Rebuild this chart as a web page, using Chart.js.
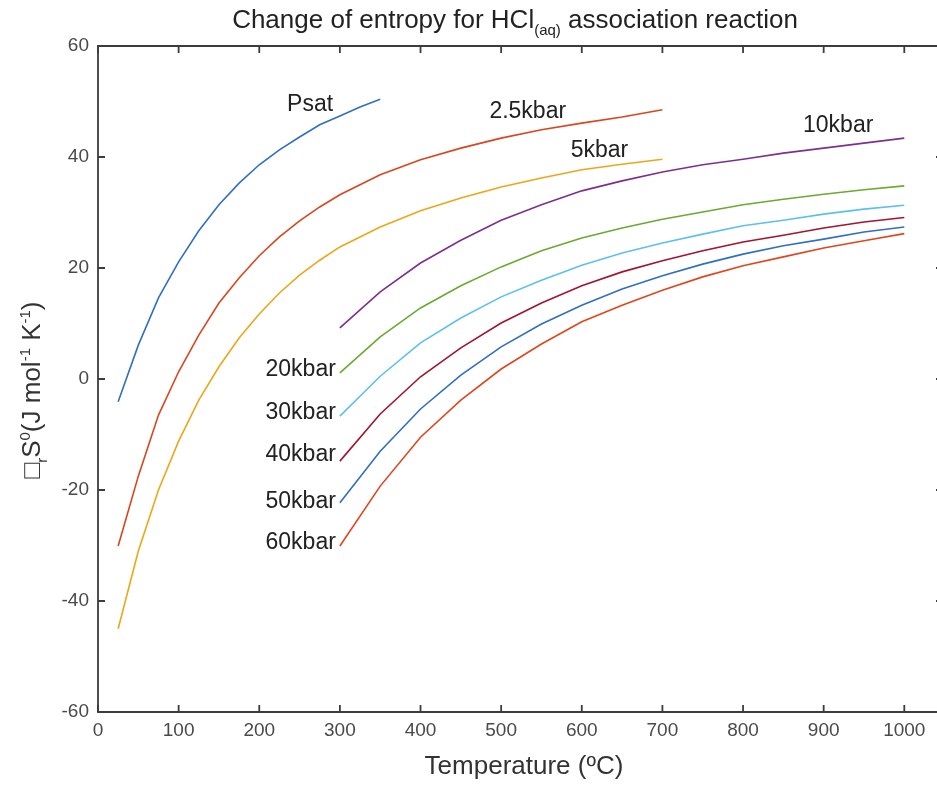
<!DOCTYPE html>
<html>
<head>
<meta charset="utf-8">
<script src="https://cdn.jsdelivr.net/npm/chart.js@4.4.0/dist/chart.umd.min.js"></script>
<style>
  html, body { margin: 0; padding: 0; background: #fff; overflow: hidden; }
  #wrap { width: 943px; height: 785px; position: relative; }
</style>
</head>
<body>
<div id="wrap"><canvas id="chart"></canvas></div>
<script>
// Temperatures (ºC)
const tPsat = [25, 50, 75, 100, 125, 150, 175, 200, 225, 250, 275, 300, 325, 350];
const tLow = [25, 50, 75, 100, 125, 150, 175, 200, 225, 250, 275, 300, 350, 400, 450, 500, 550, 600, 650, 700];
const tHigh = [300, 350, 400, 450, 500, 550, 600, 650, 700, 750, 800, 850, 900, 950, 1000];

// ΔrS0 values (J mol-1 K-1)
const sPsat = [-4.1, 6.1, 14.6, 21.1, 26.7, 31.4, 35.3, 38.6, 41.3, 43.6, 45.8, 47.4, 49.0, 50.4];
const s2p5 = [-30.1, -17.5, -6.5, 1.3, 7.9, 13.7, 18.2, 22.2, 25.6, 28.5, 31.0, 33.2, 36.8, 39.5, 41.6, 43.4, 44.9, 46.1, 47.2, 48.5];
const s5 = [-45.0, -31.0, -20.0, -11.2, -3.8, 2.2, 7.4, 11.7, 15.5, 18.7, 21.4, 23.8, 27.4, 30.3, 32.6, 34.6, 36.2, 37.7, 38.7, 39.6];
const s10 = [9.2, 15.7, 20.9, 25.0, 28.6, 31.4, 33.9, 35.7, 37.3, 38.6, 39.6, 40.7, 41.6, 42.5, 43.4];
const s20 = [1.1, 7.6, 12.8, 16.8, 20.2, 23.1, 25.4, 27.2, 28.8, 30.1, 31.4, 32.4, 33.3, 34.1, 34.8];
const s30 = [-6.7, 0.5, 6.5, 11.0, 14.8, 17.8, 20.5, 22.7, 24.5, 26.1, 27.6, 28.6, 29.7, 30.6, 31.3];
const s40 = [-14.8, -6.3, 0.4, 5.6, 10.1, 13.7, 16.8, 19.3, 21.3, 23.1, 24.7, 25.9, 27.2, 28.3, 29.1];
const s50 = [-22.3, -13.0, -5.4, 0.7, 5.8, 9.9, 13.3, 16.2, 18.6, 20.7, 22.5, 24.0, 25.2, 26.5, 27.4];
const s60 = [-30.1, -19.3, -10.5, -3.8, 1.8, 6.3, 10.3, 13.3, 16.0, 18.4, 20.4, 22.0, 23.6, 24.9, 26.2];

// Inline curve labels (data coordinates)
const labelText = ['Psat', '2.5kbar', '5kbar', '10kbar', '20kbar', '30kbar', '40kbar', '50kbar', '60kbar'];
const labelT = [263, 533, 622, 918, 295, 295, 295, 295, 295];
const labelS = [49.4, 48.1, 41.1, 45.6, 1.6, -6.1, -13.7, -22.1, -29.5];
const labelAlign = ['center', 'center', 'center', 'center', 'right', 'right', 'right', 'right', 'right'];

const xTicks = [0, 100, 200, 300, 400, 500, 600, 700, 800, 900, 1000];
const yTicks = [-60, -40, -20, 0, 20, 40, 60];

const FONT = '"Liberation Sans", Arial, Helvetica, sans-serif';

function toXY(ts, ss) {
  return ts.map((t, i) => ({ x: t, y: ss[i] }));
}

function line(label, ts, ss, color) {
  return {
    label: label,
    data: toXY(ts, ss),
    borderColor: color,
    backgroundColor: color,
    borderWidth: 1.6,
    pointRadius: 0,
    tension: 0,
    fill: false,
  };
}

// Draws a run of text pieces with sub/superscripts, centred on x
function drawRich(ctx, parts, x, y) {
  let w = 0;
  parts.forEach((p) => {
    ctx.font = `${p.size}px ${FONT}`;
    p.w = ctx.measureText(p.t).width;
    w += p.w;
  });
  let cx = x - w / 2;
  parts.forEach((p) => {
    ctx.font = `${p.size}px ${FONT}`;
    ctx.fillText(p.t, cx, y + (p.dy || 0));
    cx += p.w;
  });
}

const decorPlugin = {
  id: 'decor',
  beforeDatasetsDraw(chart) {
    const { ctx, chartArea: a, scales } = chart;
    ctx.save();
    ctx.strokeStyle = '#3c3c3c';
    ctx.lineWidth = 1.8;
    ctx.beginPath();
    ctx.rect(a.left, a.top, a.right - a.left, a.bottom - a.top);
    ctx.stroke();
    // inward ticks on all four sides
    const tl = 7;
    ctx.beginPath();
    xTicks.forEach((v) => {
      const px = scales.x.getPixelForValue(v);
      ctx.moveTo(px, a.bottom); ctx.lineTo(px, a.bottom - tl);
      ctx.moveTo(px, a.top); ctx.lineTo(px, a.top + tl);
    });
    yTicks.forEach((v) => {
      const py = scales.y.getPixelForValue(v);
      ctx.moveTo(a.left, py); ctx.lineTo(a.left + tl, py);
      ctx.moveTo(a.right, py); ctx.lineTo(a.right - tl, py);
    });
    ctx.stroke();
    ctx.restore();
  },
  afterDatasetsDraw(chart) {
    const { ctx, scales } = chart;
    ctx.save();
    ctx.fillStyle = '#222';
    ctx.font = `23px ${FONT}`;
    ctx.textBaseline = 'middle';
    labelText.forEach((txt, i) => {
      ctx.textAlign = labelAlign[i];
      ctx.fillText(txt, scales.x.getPixelForValue(labelT[i]), scales.y.getPixelForValue(labelS[i]));
    });
    ctx.restore();
  },
  afterDraw(chart) {
    const { ctx } = chart;
    ctx.save();
    ctx.fillStyle = '#222';
    ctx.textAlign = 'left';
    ctx.textBaseline = 'alphabetic';
    // title
    drawRich(ctx, [
      { t: 'Change of entropy for HCl', size: 26 },
      { t: '(aq)', size: 15, dy: 7 },
      { t: ' association reaction', size: 26 },
    ], 515, 28);
    // x axis title
    ctx.fillStyle = '#333';
    drawRich(ctx, [{ t: 'Temperature (ºC)', size: 26 }], 524, 774);
    // y axis title
    ctx.translate(40, 390);
    ctx.rotate(-Math.PI / 2);
    drawRich(ctx, [
      { t: '□', size: 26 },
      { t: 'r', size: 15, dy: 7 },
      { t: 'S', size: 26 },
      { t: '0', size: 15, dy: -10 },
      { t: '(J mol', size: 26 },
      { t: '-1', size: 15, dy: -10 },
      { t: ' K', size: 26 },
      { t: '-1', size: 15, dy: -10 },
      { t: ')', size: 26 },
    ], 0, 0);
    ctx.restore();
  },
};

new Chart(document.getElementById('chart'), {
  type: 'line',
  data: {
    datasets: [
      line('Psat', tPsat, sPsat, '#2f6fc4'),
      line('2.5kbar', tLow, s2p5, '#d9461e'),
      line('5kbar', tLow, s5, '#eaa817'),
      line('10kbar', tHigh, s10, '#7e2f8e'),
      line('20kbar', tHigh, s20, '#6aaa2e'),
      line('30kbar', tHigh, s30, '#5cc0ee'),
      line('40kbar', tHigh, s40, '#a2142f'),
      line('50kbar', tHigh, s50, '#2f6fc4'),
      line('60kbar', tHigh, s60, '#e0461c'),
    ],
  },
  options: {
    responsive: true,
    maintainAspectRatio: false,
    animation: false,
    layout: { padding: { top: 46, right: 0, left: 0, bottom: 0 } },
    scales: {
      x: {
        type: 'linear',
        min: 0,
        max: 1048,
        afterBuildTicks: (s) => { s.ticks = xTicks.map((v) => ({ value: v })); },
        afterFit: (s) => { s.height = 73; },
        grid: { display: false, drawTicks: false },
        border: { display: false },
        ticks: {
          color: '#4a4a4a',
          padding: 7,
          maxRotation: 0,
          autoSkip: false,
          font: { family: FONT, size: 19 },
          callback: (v) => String(v),
        },
      },
      y: {
        type: 'linear',
        min: -60,
        max: 60,
        afterBuildTicks: (s) => { s.ticks = yTicks.map((v) => ({ value: v })); },
        afterFit: (s) => { s.width = 98; },
        grid: { display: false, drawTicks: false },
        border: { display: false },
        ticks: {
          color: '#4a4a4a',
          padding: 9,
          font: { family: FONT, size: 19 },
          callback: (v) => String(v),
        },
      },
    },
    plugins: {
      legend: { display: false },
      tooltip: { enabled: false },
    },
  },
  plugins: [decorPlugin],
});
</script>
</body>
</html>
